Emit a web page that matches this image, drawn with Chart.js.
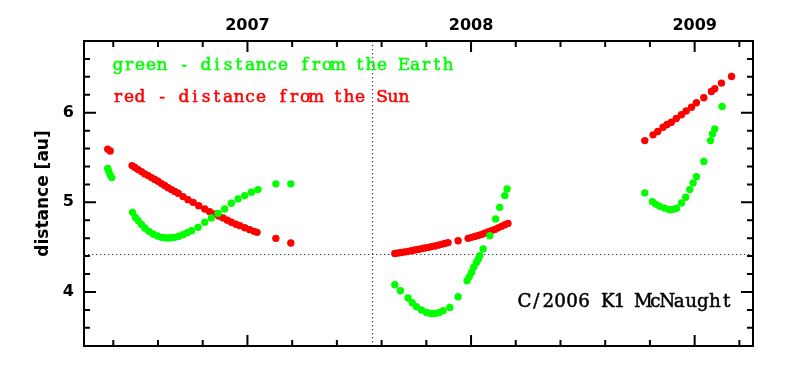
<!DOCTYPE html>
<html>
<head>
<meta charset="utf-8">
<script src="https://cdn.jsdelivr.net/npm/chart.js@4.4.1/dist/chart.umd.min.js"></script>
<style>
    html, body { margin: 0; padding: 0; background: #fff; }
    #wrap { width: 795px; height: 373px; position: relative; }
</style>
</head>
<body>
<div id="wrap"><canvas id="chart"></canvas></div>
<script>
// C/2006 K1 McNaught – distance from the Sun (red) and the Earth (green)

// decimal year / distance in au, one entry per observation
const sunDate = [
    2006.375, 2006.386,
    2006.484, 2006.497, 2006.511, 2006.526, 2006.541, 2006.556, 2006.571, 2006.585,
    2006.600, 2006.615, 2006.630, 2006.645, 2006.660, 2006.675, 2006.690, 2006.712,
    2006.734, 2006.757, 2006.782, 2006.809, 2006.831, 2006.854, 2006.872, 2006.891,
    2006.910, 2006.928, 2006.948, 2006.966, 2006.988, 2007.010, 2007.030, 2007.043,
    2007.127, 2007.194,
    2007.659, 2007.674, 2007.689, 2007.703, 2007.718, 2007.733, 2007.748, 2007.763,
    2007.778, 2007.793, 2007.808, 2007.823, 2007.838, 2007.853, 2007.868, 2007.882,
    2007.897, 2007.942, 2007.987, 2008.002, 2008.017, 2008.032, 2008.047, 2008.061,
    2008.076, 2008.091, 2008.106, 2008.121, 2008.136, 2008.151, 2008.165,
    2008.777, 2008.814, 2008.835, 2008.859, 2008.877, 2008.896, 2008.918, 2008.941,
    2008.962, 2008.986, 2009.008, 2009.041, 2009.075, 2009.090, 2009.120, 2009.165
];
const sunDist = [
    5.594, 5.572,
    5.410, 5.388, 5.365, 5.343, 5.317, 5.298, 5.276, 5.254,
    5.235, 5.209, 5.187, 5.164, 5.142, 5.120, 5.101, 5.064,
    5.030, 5.000, 4.963, 4.926, 4.896, 4.870, 4.848, 4.826,
    4.801, 4.777, 4.756, 4.740, 4.717, 4.695, 4.676, 4.665,
    4.598, 4.546,
    4.430, 4.435, 4.441, 4.447, 4.453, 4.460, 4.468, 4.475,
    4.483, 4.490, 4.497, 4.506, 4.513, 4.522, 4.531, 4.541,
    4.550, 4.572, 4.598, 4.609, 4.620, 4.631, 4.642, 4.656,
    4.669, 4.684, 4.698, 4.715, 4.732, 4.749, 4.765,
    5.689, 5.753, 5.790, 5.838, 5.868, 5.894, 5.935, 5.977,
    6.019, 6.061, 6.111, 6.166, 6.237, 6.267, 6.330, 6.404
];

const earthDate = [
    2006.375, 2006.380, 2006.386, 2006.393,
    2006.486, 2006.499, 2006.511, 2006.526, 2006.541, 2006.559, 2006.578, 2006.598,
    2006.615, 2006.630, 2006.645, 2006.660, 2006.675, 2006.693, 2006.712, 2006.731,
    2006.750, 2006.779, 2006.809, 2006.839, 2006.869, 2006.898, 2006.928, 2006.958,
    2006.988, 2007.018, 2007.047,
    2007.127, 2007.194,
    2007.659, 2007.684, 2007.718, 2007.737, 2007.756, 2007.778, 2007.801, 2007.820,
    2007.838, 2007.856, 2007.875, 2007.905, 2007.942, 2007.982, 2007.992, 2008.002,
    2008.012, 2008.024, 2008.032, 2008.039, 2008.054, 2008.084, 2008.110, 2008.128,
    2008.151, 2008.161,
    2008.777, 2008.811, 2008.826, 2008.844, 2008.866, 2008.888, 2008.904, 2008.919,
    2008.941, 2008.960, 2008.978, 2008.993, 2009.008, 2009.041, 2009.071, 2009.080,
    2009.090, 2009.123
];
const earthDist = [
    5.377, 5.343, 5.304, 5.276,
    4.888, 4.832, 4.796, 4.754, 4.714, 4.676, 4.647, 4.625,
    4.609, 4.604, 4.602, 4.604, 4.609, 4.622, 4.639, 4.660,
    4.684, 4.721, 4.777, 4.826, 4.877, 4.926, 4.989, 5.038,
    5.075, 5.112, 5.142,
    5.206, 5.206,
    4.080, 4.013, 3.932, 3.879, 3.835, 3.798, 3.771, 3.760,
    3.760, 3.768, 3.790, 3.827, 3.946, 4.125, 4.170, 4.218,
    4.276, 4.330, 4.365, 4.404, 4.479, 4.628, 4.815, 4.944,
    5.075, 5.150,
    5.105, 5.008, 4.980, 4.955, 4.935, 4.918, 4.922, 4.933,
    4.993, 5.056, 5.142, 5.217, 5.287, 5.455, 5.689, 5.764,
    5.820, 6.069
];

const yearTicks = [2007, 2008, 2009];
const distTicks = [4, 5, 6];
const perihelionDate = 2007.555;
const perihelionDist = 4.42;
const xRange = [2006.269, 2009.261];
const yRange = [3.397, 6.80];

const toPoints = (xs, ys) => xs.map((x, i) => ({ x, y: ys[i] }));

const AXIS_FONT = "'DejaVu Sans', sans-serif";
const NOTE_FONT = "'DejaVu Serif', serif";

// fixed-pitch text: every glyph centred in its own cell, lightly stroked for weight
function monoText(ctx, str, x0, baseline, cell, color) {
    ctx.textAlign = "center";
    ctx.fillStyle = color;
    ctx.strokeStyle = color;
    ctx.lineWidth = 0.5;
    [...str].forEach((c, i) => {
        ctx.fillText(c, x0 + cell * (i + 0.5), baseline);
        ctx.strokeText(c, x0 + cell * (i + 0.5), baseline);
    });
}

// dotted perihelion lines, boxed frame with inward ticks, text notes
const framePlugin = {
    id: "frame",
    beforeDatasetsDraw(chart) {
        const { ctx, chartArea: a, scales: { x, y } } = chart;
        const px = Math.round(x.getPixelForValue(perihelionDate)) + 0.5;
        const py = Math.round(y.getPixelForValue(perihelionDist)) + 0.5;
        ctx.save();
        ctx.strokeStyle = "#333";
        ctx.lineWidth = 1.2;
        ctx.setLineDash([1.3, 2.7]);
        ctx.beginPath();
        ctx.moveTo(px, a.top); ctx.lineTo(px, a.bottom);
        ctx.moveTo(a.left, py); ctx.lineTo(a.right, py);
        ctx.stroke();
        ctx.restore();
    },
    afterDatasetsDraw(chart) {
        const { ctx, chartArea: a, scales: { x, y } } = chart;
        ctx.save();
        ctx.strokeStyle = "#000";
        ctx.lineWidth = 2;
        ctx.strokeRect(a.left, a.top, a.right - a.left, a.bottom - a.top);

        ctx.beginPath();
        // x ticks every 0.2 yr, longer on whole years
        for (let k = Math.ceil(x.min * 5); k <= Math.floor(x.max * 5); k++) {
            const p = x.getPixelForValue(k / 5);
            if (p < a.left + 2 || p > a.right - 2) continue;
            const len = k % 5 === 0 ? 11 : 6;
            ctx.moveTo(p, a.top); ctx.lineTo(p, a.top + len);
            ctx.moveTo(p, a.bottom); ctx.lineTo(p, a.bottom - len);
        }
        // y ticks every 0.2 au, longer on whole units
        for (let k = Math.ceil(y.min * 5); k <= Math.floor(y.max * 5); k++) {
            const p = y.getPixelForValue(k / 5);
            if (p < a.top + 2 || p > a.bottom - 2) continue;
            const len = k % 5 === 0 ? 12 : 6;
            ctx.moveTo(a.left, p); ctx.lineTo(a.left + len, p);
            ctx.moveTo(a.right, p); ctx.lineTo(a.right - len, p);
        }
        ctx.stroke();
        ctx.restore();
    },
    afterDraw(chart) {
        const { ctx, chartArea: a } = chart;
        ctx.save();
        ctx.textBaseline = "alphabetic";
        ctx.font = "17px " + NOTE_FONT;
        monoText(ctx, "green - distance from the Earth", a.left + 28.5, a.top + 29, 11, "#00ff00");
        monoText(ctx, "red - distance from the Sun", a.left + 28.5, a.top + 60.5, 11, "#ff0000");
        ctx.font = "18.3px " + NOTE_FONT;
        monoText(ctx, "C/2006 K1 McNaught", a.left + 434.5, a.bottom - 39.3, 11.9, "#000");
        ctx.restore();
    }
};

new Chart(document.getElementById("chart"), {
    type: "scatter",
    data: {
        datasets: [
            {
                label: "distance from the Earth",
                data: toPoints(earthDate, earthDist),
                backgroundColor: "#00ff00", borderWidth: 0,
                pointRadius: 3.7, pointHoverRadius: 3.7,
            },
            {
                label: "distance from the Sun",
                data: toPoints(sunDate, sunDist),
                backgroundColor: "#ff0000", borderWidth: 0,
                pointRadius: 3.7, pointHoverRadius: 3.7,
            }
        ]
    },
    options: {
        responsive: true, maintainAspectRatio: false,
        animation: false,
        devicePixelRatio: 1,
        layout: { padding: { left: 0, top: 0, right: 42, bottom: 27 } },
        plugins: {
            legend: { display: false },
            tooltip: { enabled: false }
        },
        scales: {
            x: {
                type: "linear", position: "top",
                min: xRange[0], max: xRange[1],
                grid: { display: false, drawTicks: false },
                border: { display: false },
                ticks: {
                    color: "#000", padding: 6, maxRotation: 0,
                    font: { family: AXIS_FONT, weight: "bold", size: 16 },
                    callback: v => String(v)
                },
                afterBuildTicks: s => { s.ticks = yearTicks.map(v => ({ value: v })); },
                afterFit: s => { s.height = 41; }
            },
            y: {
                type: "linear", position: "left",
                min: yRange[0], max: yRange[1],
                grid: { display: false, drawTicks: false },
                border: { display: false },
                ticks: {
                    color: "#000", padding: 10,
                    font: { family: AXIS_FONT, weight: "bold", size: 16 },
                    callback: v => String(v)
                },
                title: {
                    display: true, text: "distance [au]", color: "#000",
                    font: { family: AXIS_FONT, weight: "bold", size: 17 },
                    padding: { top: 33, bottom: 0 }
                },
                afterBuildTicks: s => { s.ticks = distTicks.map(v => ({ value: v })); },
                afterFit: s => { s.width = 84; }
            }
        }
    },
    plugins: [framePlugin]
});
</script>
</body>
</html>
